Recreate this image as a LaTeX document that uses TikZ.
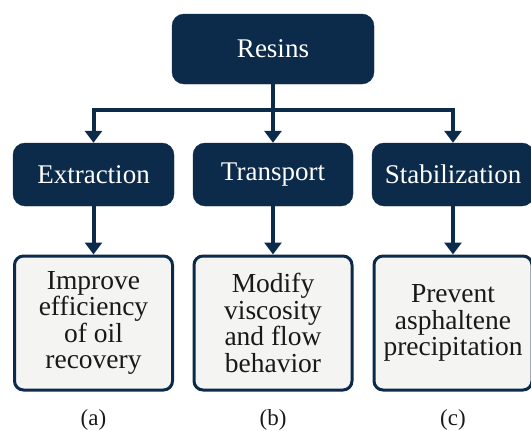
\documentclass[tikz,border=0pt]{standalone}
\usepackage{fontspec}
\setmainfont{Liberation Serif}
\usetikzlibrary{arrows.meta}
\definecolor{navy}{RGB}{12,42,74}
\definecolor{pale}{RGB}{244,244,242}
\definecolor{ink}{RGB}{25,25,25}
\begin{document}
\begin{tikzpicture}[x=1pt,y=-1pt,
  topbox/.style={fill=navy,draw=navy,rounded corners=12pt,text=white,inner sep=0pt,
    font=\fontsize{27}{30}\selectfont},
  leafbox/.style={fill=pale,draw=navy,line width=3pt,rounded corners=9pt,text=ink,inner sep=0pt,
    align=center,minimum width=158pt,minimum height=134pt,
    font=\fontsize{27.5}{26.5}\selectfont},
  lbl/.style={text=ink,font=\fontsize{23}{26}\selectfont},
  conn/.style={draw=navy,line width=4pt},
  arr/.style={conn,-{Triangle[width=17pt,length=12pt]}}]
\useasboundingbox (0,0) rectangle (531,431);
\clip (0,0) rectangle (531,431);
\node[topbox,minimum width=202pt,minimum height=70pt] (resins) at (273,49) {Resins};
\node[topbox,minimum width=161pt,minimum height=63pt] (extr) at (93.5,174.5) {Extraction};
\node[topbox,minimum width=160pt,minimum height=63pt] (trans) at (273,174.5) {Transport};
\node[topbox,minimum width=162pt,minimum height=63pt] (stab) at (453,174.5) {Stabilization};
\node[leafbox] (la) at (93.5,323) {Improve\\efficiency\\of oil\\recovery};
\node[leafbox] (lb) at (273,323) {Modify\\viscosity\\and flow\\behavior};
\node[leafbox] (lc) at (453,323) {Prevent\\asphaltene\\precipitation};
\node[lbl] (a) at (93.5,420) {(a)};
\node[lbl] (b) at (273,420) {(b)};
\node[lbl] (c) at (453,420) {(c)};
\coordinate (j) at (273,110);
\draw[conn] (resins.south) -- (j);
\draw[arr] (j) -| (extr.north);
\draw[arr] (j) -- (trans.north);
\draw[arr] (j) -| (stab.north);
\draw[arr] (extr.south) -- (la.north);
\draw[arr] (trans.south) -- (lb.north);
\draw[arr] (stab.south) -- (lc.north);
\end{tikzpicture}
\end{document}
